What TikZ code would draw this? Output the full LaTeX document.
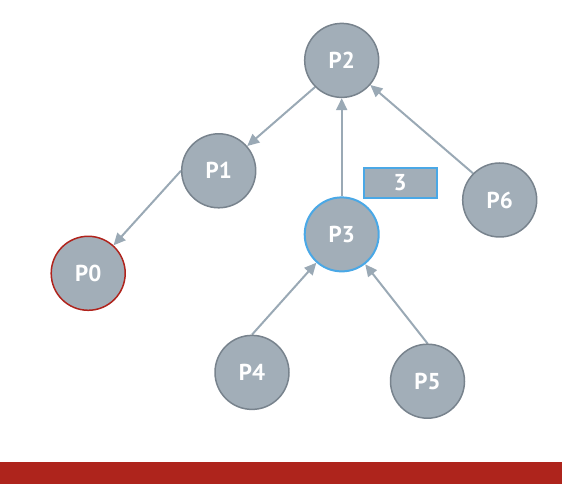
\documentclass[tikz,border=0pt]{standalone}
\usepackage{fontspec}
\setsansfont{PT Sans}
\usepackage{tikz}
\usetikzlibrary{positioning,arrows.meta,backgrounds}

\definecolor{procfill}{HTML}{A2AEB8}
\definecolor{procline}{HTML}{78838D}
\definecolor{linkgray}{HTML}{9AA9B5}
\definecolor{hiblue}{HTML}{4AA8E6}
\definecolor{rootred}{HTML}{B0231C}
\definecolor{barred}{HTML}{AE241C}

\tikzset{
    proc/.style={circle, draw=procline, fill=procfill, line width=1.5pt,
        minimum size=74pt, inner sep=0pt, text=white,
        font=\sffamily\bfseries\fontsize{23}{23}\selectfont},
    root/.style={proc, draw=rootred},
    marked/.style={proc, draw=hiblue, line width=2pt},
    rankbox/.style={rectangle, draw=hiblue, fill=procfill, line width=2pt,
        minimum width=73pt, minimum height=30pt, inner sep=0pt, text=white,
        font=\sffamily\bfseries\fontsize{23}{23}\selectfont},
    link/.style={draw=linkgray, line width=2pt,
        -{Triangle[length=12pt, width=11pt]}}
}

\begin{document}
\begin{tikzpicture}[x=1pt, y=1pt, on grid]
        \useasboundingbox (0,0) rectangle (562,484);
        \fill[barred] (0,0) rectangle (562,22);
        \node[proc] (p2) at (341.7,423.6) {P2};
        \node[proc, below left=110.4pt and 123pt of p2] (p1) {P1};
        \node[root, below left=102.5pt and 130.5pt of p1] (p0) {P0};
        \node[marked, below=174pt of p2] (p3) {P3};
        \node[proc, below right=139.6pt and 158pt of p2] (p6) {P6};
        \node[proc, below left=138pt and 89.7pt of p3] (p4) {P4};
        \node[proc, below right=146.8pt and 85.8pt of p3] (p5) {P5};
        \node[rankbox, above right=51.5pt and 58.5pt of p3] (rank) {3};
        \begin{pgfonlayer}{background}
        \draw[link] (p2.south west) edge[link] (p1)
              (p1.west) edge[link] (p0)
              (p3) edge[link] (p2)
              (p6.north west) edge[link] (p2)
              (p4.north) edge[link] (p3)
              (p5.north) edge[link] (p3);
        \end{pgfonlayer}
    \end{tikzpicture}
\end{document}
